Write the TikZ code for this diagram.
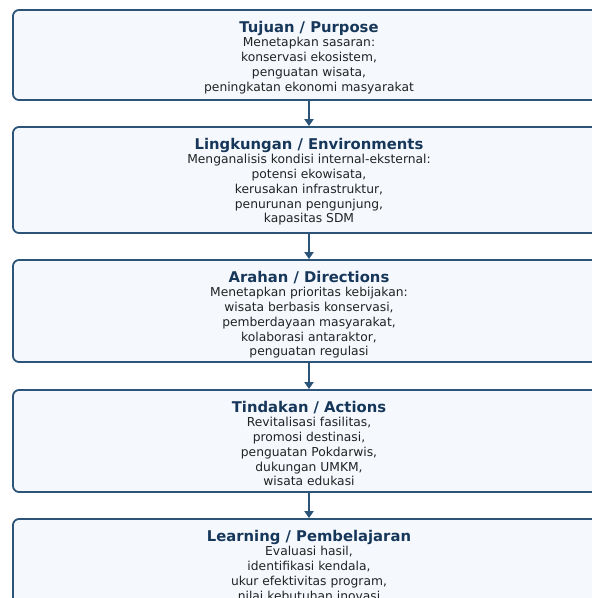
\documentclass[tikz,border=0pt]{standalone}
\usepackage{fontspec}
\setmainfont{DejaVu Sans}
\usetikzlibrary{arrows.meta}
\definecolor{boxfill}{HTML}{F5F9FE}
\definecolor{boxline}{HTML}{2B5478}
\definecolor{titlecol}{HTML}{17375A}
\definecolor{bodycol}{HTML}{222222}
\tikzset{
  stagebox/.style={draw=boxline, line width=1.8pt, fill=boxfill, rounded corners=6pt,
    minimum width=592pt, inner sep=0pt},
  stagetitle/.style={anchor=north, inner sep=0pt, font=\bfseries\fontsize{14.8}{16}\selectfont, text=titlecol},
  stagebody/.style={anchor=north, inner sep=0pt, align=center, font=\fontsize{12.3}{14.8}\selectfont, text=bodycol},
  flow/.style={draw=boxline, line width=2pt, -{Triangle[width=9pt,length=7pt]}}
}
\begin{document}
\begin{tikzpicture}[x=1pt,y=-1pt]
\useasboundingbox (0,0) rectangle (592,598);
\clip (0,0) rectangle (592,598);
\fill[white] (0,0) rectangle (592,598);
% boxes
\node[stagebox, minimum height=90pt] (b1) at (309,55) {};
\node[stagebox, minimum height=106pt] (b2) at (309,180) {};
\node[stagebox, minimum height=102pt] (b3) at (309,311) {};
\node[stagebox, minimum height=102pt] (b4) at (309,441) {};
\node[stagebox, minimum height=102pt] (b5) at (309,570) {};
% texts
\node[stagetitle] (t1) at ([yshift=-12pt]b1.north) {Tujuan / Purpose};
\node[stagebody] (d1) at ([yshift=-28pt]b1.north) {Menetapkan sasaran:\\konservasi ekosistem,\\penguatan wisata,\\peningkatan ekonomi masyarakat};
\node[stagetitle] (t2) at ([yshift=-12pt]b2.north) {Lingkungan / Environments};
\node[stagebody] (d2) at ([yshift=-28pt]b2.north) {Menganalisis kondisi internal-eksternal:\\potensi ekowisata,\\kerusakan infrastruktur,\\penurunan pengunjung,\\kapasitas SDM};
\node[stagetitle] (t3) at ([yshift=-12pt]b3.north) {Arahan / Directions};
\node[stagebody] (d3) at ([yshift=-28pt]b3.north) {Menetapkan prioritas kebijakan:\\wisata berbasis konservasi,\\pemberdayaan masyarakat,\\kolaborasi antaraktor,\\penguatan regulasi};
\node[stagetitle] (t4) at ([yshift=-12pt]b4.north) {Tindakan / Actions};
\node[stagebody] (d4) at ([yshift=-28pt]b4.north) {Revitalisasi fasilitas,\\promosi destinasi,\\penguatan Pokdarwis,\\dukungan UMKM,\\wisata edukasi};
\node[stagetitle] (t5) at ([yshift=-12pt]b5.north) {Learning / Pembelajaran};
\node[stagebody] (d5) at ([yshift=-28pt]b5.north) {Evaluasi hasil,\\identifikasi kendala,\\ukur efektivitas program,\\nilai kebutuhan inovasi};
% arrows
\draw[flow] (b1.south) -- (b2.north);
\draw[flow] (b2.south) -- (b3.north);
\draw[flow] (b3.south) -- (b4.north);
\draw[flow] (b4.south) -- (b5.north);
\end{tikzpicture}
\end{document}
